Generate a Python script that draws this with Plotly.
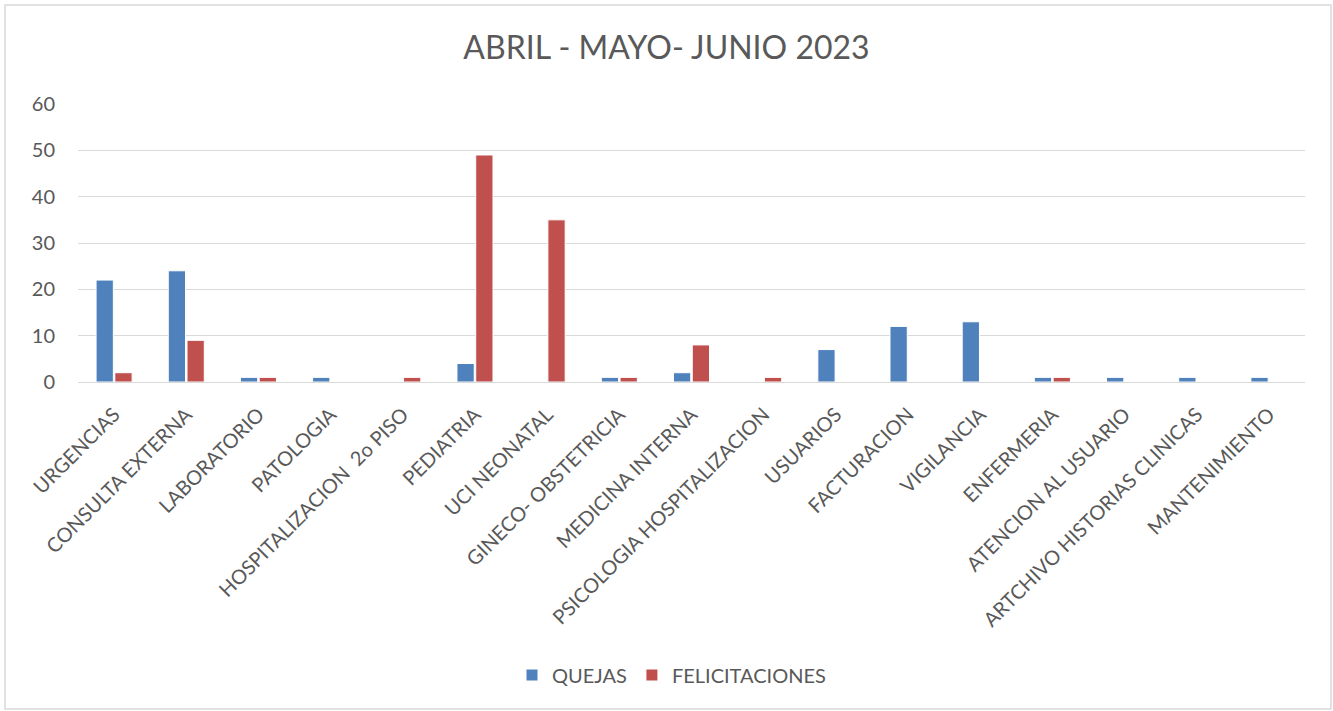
import plotly.graph_objects as go

categories = ["URGENCIAS", "CONSULTA EXTERNA", "LABORATORIO", "PATOLOGIA",
              "HOSPITALIZACION  2o PISO", "PEDIATRIA", "UCI NEONATAL",
              "GINECO- OBSTETRICIA", "MEDICINA INTERNA", "PSICOLOGIA HOSPITALIZACION",
              "USUARIOS", "FACTURACION", "VIGILANCIA", "ENFERMERIA",
              "ATENCION AL USUARIO", "ARTCHIVO HISTORIAS CLINICAS", "MANTENIMIENTO"]
quejas = [22, 24, 1, 1, 0, 4, 0, 1, 2, 0, 7, 12, 13, 1, 1, 1, 1]
felicitaciones = [2, 9, 1, 0, 1, 49, 35, 1, 8, 1, 0, 0, 0, 1, 0, 0, 0]
y_ticks = [0, 10, 20, 30, 40, 50, 60]

W, H = 1333, 711
L, R, T, B = 78, 28, 104, 329
pw, ph = W - L - R, H - T - B

FONT = "Lato, 'Open Sans', sans-serif"
GREY = "#595959"

fig = go.Figure()
fig.add_trace(go.Bar(x=categories, y=quejas, name="QUEJAS",
                     marker=dict(color="#4F81BD", line=dict(color="white", width=1))))
fig.add_trace(go.Bar(x=categories, y=felicitaciones, name="FELICITACIONES",
                     marker=dict(color="#C0504D", line=dict(color="white", width=1))))

fig.update_layout(
    width=W, height=H,
    margin=dict(l=L, r=R, t=T, b=B),
    paper_bgcolor="white", plot_bgcolor="white",
    barmode="group", bargap=0.48, bargroupgap=0.08,
    font=dict(family=FONT, color=GREY),
    title=dict(text="ABRIL - MAYO- JUNIO 2023", x=0.5, xanchor="center",
               y=1 - 48 / H, yanchor="middle",
               font=dict(size=32, color=GREY, family=FONT)),
    xaxis=dict(tickangle=-45, tickfont=dict(size=20, color=GREY, family=FONT),
               showgrid=False, showline=False, ticks="", automargin=False,
               ticklabelstandoff=16),
    yaxis=dict(range=[0, 60], tickvals=y_ticks, tickfont=dict(size=20, color=GREY, family=FONT),
               showgrid=True, gridcolor="#D9D9D9", gridwidth=1,
               zeroline=True, zerolinecolor="#D9D9D9", zerolinewidth=1,
               showline=False, ticks="", ticklabelstandoff=22, automargin=False),
    legend=dict(orientation="h", x=0.5 - 20 / pw, xanchor="center",
                y=(382 - 675) / ph, yanchor="middle",
                font=dict(size=20, color=GREY, family=FONT),
                itemwidth=30, traceorder="normal"),
    showlegend=True,
)

fig.add_shape(type="rect", xref="paper", yref="paper",
              x0=(5 - L) / pw, x1=(1331 - L) / pw,
              y0=(382 - 709) / ph, y1=(382 - 5) / ph,
              line=dict(color="#D9D9D9", width=1.5), fillcolor="rgba(0,0,0,0)", layer="below")

fig.write_html("out.html", config={"displayModeBar": False},
               post_script="document.body.style.margin='0';document.body.style.overflow='hidden';")
